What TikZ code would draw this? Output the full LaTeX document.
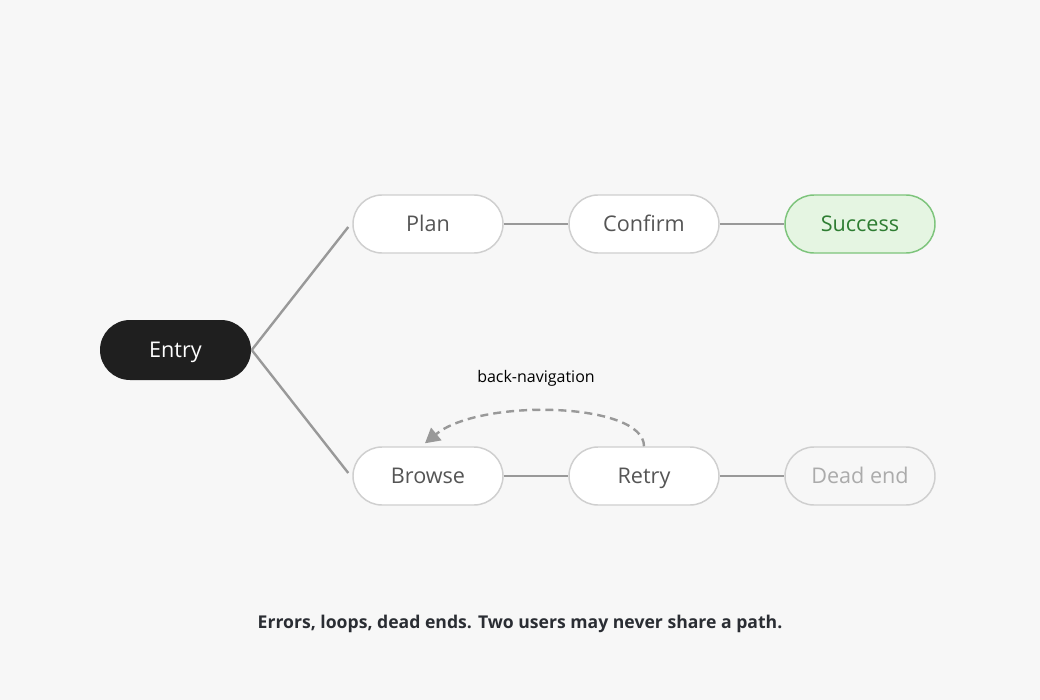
\documentclass[tikz,border=0pt]{standalone}
\usepackage{fontspec}
\setmainfont{Open Sans}
\usetikzlibrary{arrows.meta,calc}
\definecolor{bg}{HTML}{F7F7F7}
\definecolor{entryfill}{HTML}{1F1F1F}
\definecolor{nodeborder}{HTML}{CFCFCF}
\definecolor{nodetext}{HTML}{555555}
\definecolor{linkgray}{HTML}{999999}
\definecolor{okfill}{HTML}{E5F5E2}
\definecolor{okborder}{HTML}{7DC47B}
\definecolor{oktext}{HTML}{2E7D32}
\definecolor{deadtext}{HTML}{ABABAB}
\definecolor{captext}{HTML}{2A2D33}
\begin{document}
\begin{tikzpicture}[x=0.75pt,y=-0.75pt,
  pill/.style={draw=nodeborder, fill=white, line width=1.1pt, rounded corners=21.75pt,
    minimum width=112.5pt, minimum height=43.5pt, inner sep=0pt,
    text height=11.6pt, text depth=0pt,
    text=nodetext, font=\fontsize{16.2}{19}\selectfont},
  entrypill/.style={pill, draw=none, fill=entryfill, text=white, minimum width=113.25pt, minimum height=45pt, rounded corners=22.5pt},
  okpill/.style={pill, draw=okborder, fill=okfill, text=oktext},
  deadpill/.style={pill, fill=none, text=deadtext},
  link/.style={draw=linkgray, line width=1.8pt},
  backlink/.style={draw=linkgray, line width=1.8pt, dash pattern=on 6pt off 3.8pt,
    -{Triangle[length=11pt,width=12pt]}}
]
\fill[bg] (0,0) rectangle (1040,700);
\useasboundingbox (0,0) rectangle (1040,700);

\node[entrypill] (entry) at (175.5,350) {Entry};
\node[pill] (plan) at (428,224) {Plan};
\node[pill] (confirm) at (644,224) {Confirm};
\node[okpill] (success) at (860,224) {Success};
\node[pill] (browse) at (428,476) {Browse};
\node[pill] (retry) at (644,476) {Retry};
\node[deadpill] (dead) at (860,476) {Dead end};

\coordinate (planin) at ($(plan.west)+(-4,3)$);
\coordinate (browsein) at ($(browse.west)+(-4,-3)$);
\draw[link] (entry.east) -- (planin);
\draw[link] (entry.east) -- (browsein);
\draw[link] (plan.east) -- (confirm.west);
\draw[link] (confirm.east) -- (success.west);
\draw[link] (browse.east) -- (retry.west);
\draw[link] (retry.east) -- (dead.west);

\draw[backlink] (retry.north) .. controls (644,402) and (480,398) .. ([xshift=-2.25pt,yshift=2.25pt]browse.north);
\node[font=\fontsize{12}{14}\selectfont, text=black] (backlabel) at (536,378) {back-navigation};

\node[font=\fontsize{13.2}{16}\selectfont\bfseries, text=captext] (caption) at (520,624) {Errors, loops, dead ends. Two users may never share a path.};
\end{tikzpicture}
\end{document}
